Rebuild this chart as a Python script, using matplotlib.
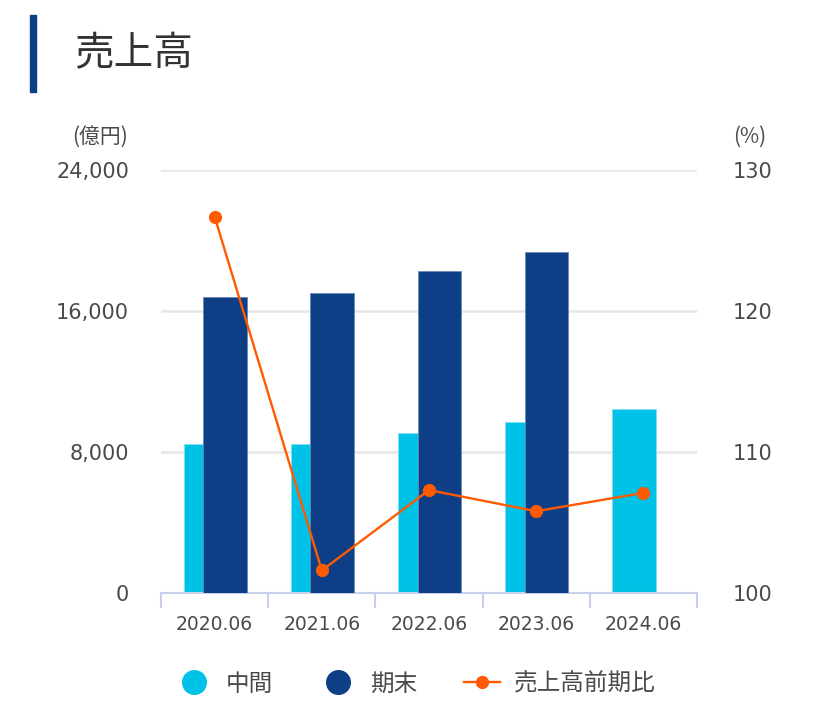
import numpy as np
import matplotlib.pyplot as plt
from matplotlib.lines import Line2D

plt.rcParams['font.family'] = ['Noto Sans CJK JP', 'DejaVu Sans']

# Data
periods = ["2020.06", "2021.06", "2022.06", "2023.06", "2024.06"]
interim = [8450, 8450, 9060, 9680, 10420]          # 中間 (億円)
full_year = [16780, 17000, 18250, 19370, np.nan]   # 期末 (億円)
yoy_ratio = [126.7, 101.6, 107.3, 105.8, 107.1]    # 売上高前期比 (%)

c_interim = '#00C1E6'
c_full = '#0E3F86'
c_line = '#FF5A00'
c_text = '#4a4a4a'
c_axis = '#C9D1EA'
num_font = ['DejaVu Sans']

fig = plt.figure(figsize=(8.25, 7.16), dpi=100)
ax = fig.add_axes([161 / 825, 1 - 593 / 716, 536 / 825, 423 / 716])
ax2 = ax.twinx()

x = np.arange(len(periods))
w = 0.405
ax.bar(x - 0.087, interim, width=w, color=c_interim, edgecolor='#7fe0f2', linewidth=0.6, zorder=2)
ax.bar(x + 0.097, full_year, width=w, color=c_full, edgecolor='#6b88b8', linewidth=0.6, zorder=3)

ax2.plot(x, yoy_ratio, color=c_line, linewidth=1.7, marker='o', markersize=8.5, zorder=5)

# Axes setup
ax.set_xlim(-0.5, len(periods) - 0.5)
ax.set_ylim(0, 24000)
ax.set_yticks([0, 8000, 16000, 24000])
ax.set_yticklabels([f"{v:,}" for v in [0, 8000, 16000, 24000]])
ax2.set_ylim(100, 130)
ax2.set_yticks([100, 110, 120, 130])

ax.set_xticks(x)
ax.set_xticklabels(periods)
ax.set_xticks(np.arange(-0.5, len(periods)), minor=True)
ax.tick_params(axis='x', which='major', length=0, pad=16, labelcolor=c_text)
ax.tick_params(axis='x', which='minor', length=11, width=1.5, color=c_axis)
ax.tick_params(axis='y', length=0, pad=23, labelcolor=c_text)
ax2.tick_params(axis='y', length=0, pad=26, labelcolor=c_text)

for lbl in ax.get_xticklabels():
    lbl.set_fontfamily(num_font)
    lbl.set_fontsize(13.5)
for lbl in ax.get_yticklabels() + ax2.get_yticklabels():
    lbl.set_fontfamily(num_font)
    lbl.set_fontsize(15)

for a in (ax, ax2):
    for s in ['top', 'left', 'right']:
        a.spines[s].set_visible(False)
ax2.spines['bottom'].set_visible(False)
ax.spines['bottom'].set_color(c_axis)
ax.spines['bottom'].set_linewidth(1.5)

ax.yaxis.grid(True, color='#e6e6e6', linewidth=1.8, zorder=0)
ax.set_axisbelow(True)

# Units
fig.text(128 / 825, 1 - 137 / 716, "(億円)", ha='right', va='center', fontsize=15, color=c_text)
fig.text(733 / 825, 1 - 137 / 716, "(%)", ha='left', va='center', fontsize=15, color=c_text)

# Title with accent bar
fig.add_artist(plt.Rectangle((30 / 825, 1 - 92 / 716), 6 / 825, 77 / 716,
                             transform=fig.transFigure, color='#0E3F86'))
fig.text(74 / 825, 1 - 54 / 716, "売上高", ha='left', va='center', fontsize=28.5, color='#333333')

# Legend
handles = [
    Line2D([], [], linestyle='none', marker='o', markersize=17, color=c_interim),
    Line2D([], [], linestyle='none', marker='o', markersize=17, color=c_full),
    Line2D([], [], color=c_line, linewidth=1.7, marker='o', markersize=8.5),
]
fig.legend(handles, ["中間", "期末", "売上高前期比"], loc='center',
           bbox_to_anchor=(416 / 825, 1 - 684 / 716), ncol=3, frameon=False,
           fontsize=17, labelcolor=c_text, handlelength=1.5, handletextpad=0.6,
           columnspacing=2.0)

fig.savefig("out.png", dpi=100)
